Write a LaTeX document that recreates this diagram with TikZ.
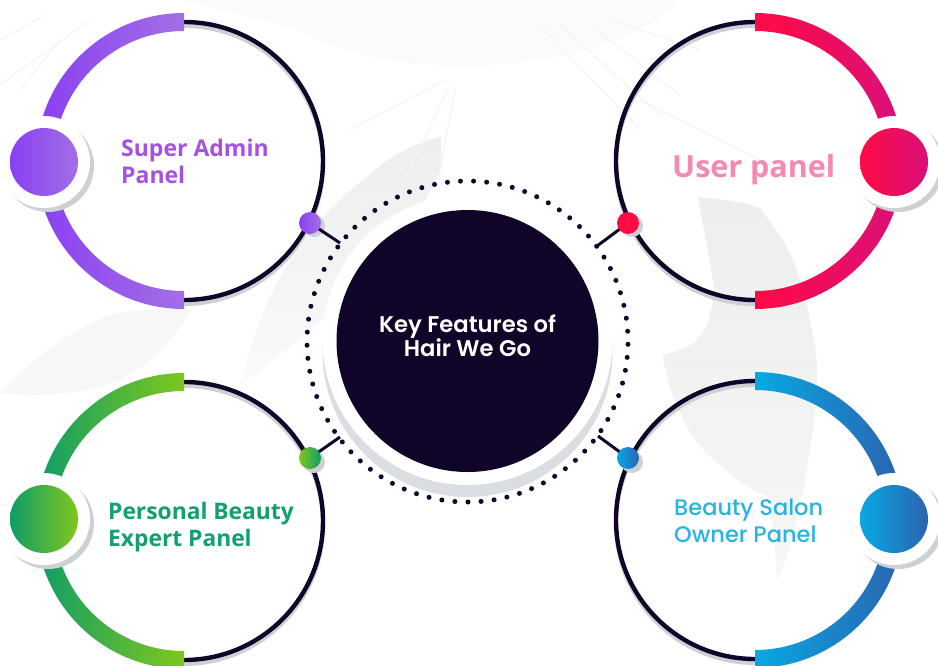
\documentclass[tikz,border=0pt]{standalone}
\usepackage{fontspec}
\setmainfont{Poppins}
\newfontfamily\osans{Open Sans}
\newfontfamily\popmed{Poppins Medium}
\newfontfamily\popsemi{Poppins SemiBold}
\definecolor{navy}{HTML}{100428}
\definecolor{shadowc}{HTML}{CDD0D4}
\definecolor{hubsh}{HTML}{DADDE1}
\definecolor{leafc}{HTML}{ECEFED}
\definecolor{leafl}{HTML}{F6F7F6}
\definecolor{leafw}{HTML}{FDFBF9}
\definecolor{rayc}{HTML}{F7F5F3}
\definecolor{purA}{HTML}{8A3FF2}\definecolor{purB}{HTML}{A26FE6}
\definecolor{redA}{HTML}{FF0A45}\definecolor{redB}{HTML}{D9107A}
\definecolor{grnA}{HTML}{0F9C68}\definecolor{grnB}{HTML}{7FC81C}
\definecolor{bluA}{HTML}{08A8E4}\definecolor{bluB}{HTML}{2C63AE}
\definecolor{txtA}{HTML}{A552E2}\definecolor{txtB}{HTML}{F58AB0}
\definecolor{txtC}{HTML}{12A070}\definecolor{txtD}{HTML}{28B4E0}
\tikzset{
  x=1pt,y=-1pt,
  thinring/.style={draw=navy,line width=4.4pt},
  ringshadow/.style={draw=shadowc,line width=4pt},
  whitehalo/.style={circle,fill=white,minimum size=92pt,inner sep=0pt},
  halosh/.style={circle,fill=shadowc,minimum size=92pt,inner sep=0pt},
  bigdisc/.style={circle,minimum size=68pt,inner sep=0pt},
  joint/.style={circle,minimum size=22pt,inner sep=0pt},
  jointsh/.style={circle,fill=shadowc,minimum size=22pt,inner sep=0pt},
  link/.style={draw=navy,line width=3pt},
  dotmark/.style={circle,fill=navy,minimum size=5pt,inner sep=0pt},
  lab/.style={align=left,anchor=west,inner sep=0pt},
  ray/.style={draw=rayc,line width=1.3pt},
}
\newcommand{\bandR}[6]{% cx cy, start, end, colours
  \shade[left color=#5,right color=#6]
    ({#1+148*cos(#3)},{#2-148*sin(#3)}) arc[start angle=#3,end angle=#4,radius=148pt]
    -- ({#1+130*cos(#4)},{#2-130*sin(#4)}) arc[start angle=#4,end angle=#3,radius=130pt] -- cycle;}
\begin{document}
\begin{tikzpicture}
\useasboundingbox (0,0) rectangle (938,665);
\fill[white] (0,0) rectangle (938,665);
% faint background foliage
\fill[leafw] (180,0) -- (680,0) .. controls (620,70) and (400,90) .. (300,30) -- cycle;
\shade[top color=leafc,bottom color=leafl]
  (698,197) .. controls (730,200) and (745,203) .. (760,208)
  .. controls (780,235) and (790,250) .. (797,270)
  .. controls (805,295) and (808,310) .. (810,320)
  .. controls (815,345) and (817,355) .. (817,367)
  .. controls (817,400) and (815,420) .. (810,447)
  .. controls (805,490) and (795,530) .. (790,547)
  .. controls (785,560) and (780,575) .. (777,580)
  .. controls (775,550) and (773,520) .. (770,497)
  .. controls (750,490) and (735,480) .. (723,467)
  .. controls (700,450) and (690,435) .. (680,413)
  .. controls (670,390) and (665,375) .. (663,355)
  .. controls (680,350) and (690,347) .. (697,340)
  .. controls (705,330) and (710,320) .. (710,313)
  .. controls (715,300) and (715,290) .. (713,280)
  .. controls (708,250) and (702,220) .. (698,197) -- cycle;
\shade[top color=leafc,bottom color=leafl!60!white]
  (441,137) .. controls (415,143) and (390,155) .. (367,177)
  .. controls (330,205) and (270,260) .. (240,385)
  .. controls (290,350) and (400,260) .. (441,170) -- cycle;
\fill[leafl] (0,393) .. controls (40,350) and (90,320) .. (117,313)
  .. controls (150,308) and (170,308) .. (190,310)
  .. controls (170,350) and (130,380) .. (100,387)
  .. controls (70,395) and (30,397) .. (0,393) -- cycle;
\draw[ray] (0,85) -- (90,20);
\draw[ray] (20,90) -- (60,40);
\draw[ray] (0,40) -- (45,15);
\draw[ray] (350,130) -- (445,80);
\draw[ray] (400,190) -- (450,85);
\draw[ray] (440,170) -- (455,90);
\draw[ray] (540,25) -- (640,130);
\draw[ray] (560,25) -- (660,115);
\draw[ray] (590,25) -- (680,95);
\draw[ray] (610,20) -- (700,50);
\draw[ray] (640,100) -- (800,180);
% rings: shadows, lines
\draw[ringshadow] (184,165) circle[radius=139pt];
\draw[ringshadow] (184,525) circle[radius=139pt];
\draw[ringshadow] (755,165) circle[radius=139pt];
\draw[ringshadow] (755,524) circle[radius=139pt];
\draw[thinring] (184,161) circle[radius=139pt];
\draw[thinring] (184,521) circle[radius=139pt];
\draw[thinring] (755,161) circle[radius=139pt];
\draw[thinring] (755,520) circle[radius=139pt];
% coloured bands
\bandR{184}{161}{90}{270}{purA}{purB}
\bandR{184}{521}{90}{270}{grnA}{grnB}
\bandR{755}{161}{-90}{90}{redA}{redB}
\bandR{755}{520}{-90}{90}{bluA}{bluB}
% discs
\node[halosh] at (48,166) {};
\node[halosh] at (898,166) {};
\node[halosh] at (48,523) {};
\node[halosh] at (898,523) {};
\node[whitehalo] at (44,162) {};
\node[whitehalo] at (894,162) {};
\node[whitehalo] at (44,519) {};
\node[whitehalo] at (894,519) {};
\node[bigdisc,left color=purA,right color=purB] (dA) at (44,162) {};
\node[bigdisc,left color=redA,right color=redB] (dB) at (894,162) {};
\node[bigdisc,left color=grnA,right color=grnB] (dC) at (44,519) {};
\node[bigdisc,left color=bluA,right color=bluB] (dD) at (894,519) {};
% centre
\node[circle,fill=hubsh,minimum size=290pt,inner sep=0pt] at (467.5,352) {};
\node[circle,fill=white,minimum size=290pt,inner sep=0pt] at (467.5,340) {};
\node[circle,fill=navy,minimum size=262pt,inner sep=0pt] (hub) at (467.5,341) {};
\node[text=white,align=center,font=\popsemi\fontsize{22.7}{24}\selectfont] (hubtext) at (467.5,336) {Key Features of\\Hair We Go};
\foreach \i in {0,...,76}{
  \pgfmathsetmacro{\ang}{\i*4.67532+1}
  \node[dotmark] (dot\i) at ({467.5+160.5*cos(\ang)},{341.5+160.5*sin(\ang)}) {};
}
% joints and links
\coordinate (endA) at (340,243);
\coordinate (endB) at (597,246);
\coordinate (endC) at (340,437);
\coordinate (endD) at (598,436);
\node[jointsh] at (314,226) {};
\node[jointsh] at (632,226) {};
\node[jointsh] at (314,462) {};
\node[jointsh] at (632,462) {};
\draw[link] (310,223) -- (endA);
\draw[link] (628,223) -- (endB);
\draw[link] (310,458) -- (endC);
\draw[link] (628,458) -- (endD);
\node[joint,left color=purA,right color=purB] (jA) at (310,223) {};
\node[joint,fill=redA] (jB) at (628,223) {};
\node[joint,left color=grnB,right color=grnA] (jC) at (310,458) {};
\node[joint,left color=bluA,right color=bluB] (jD) at (628,458) {};
% labels
\node[lab,text=txtA,font=\osans\fontsize{23}{27}\selectfont\bfseries] (tA) at (121,161) {Super Admin\\Panel};
\node[lab,text=txtB,font=\osans\fontsize{30.5}{34}\selectfont\bfseries] (tB) at (672,170) {User panel};
\node[lab,text=txtC,font=\osans\fontsize{22.8}{27}\selectfont\bfseries] (tC) at (108,527) {Personal Beauty\\Expert Panel};
\node[lab,text=txtD,font=\popmed\fontsize{22.5}{27}\selectfont] (tD) at (674,521) {Beauty Salon\\Owner Panel};
\end{tikzpicture}
\end{document}
